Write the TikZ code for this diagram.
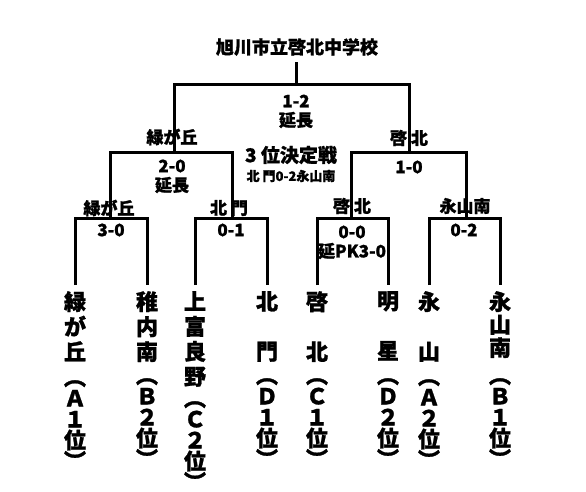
\documentclass[tikz,border=0pt]{standalone}
\usepackage{fontspec}
\setmainfont{Noto Sans CJK JP}[BoldFeatures={FakeBold=1.2}]
\newcommand{\rparv}{\raisebox{0pt}[\height][0pt]{︶}}
\begin{document}
\begin{tikzpicture}[x=1pt,y=-1pt]
\tikzset{
 ln/.style={line width=3pt},
 lab/.style={font=\bfseries\fontsize{17}{17}\selectfont, inner sep=0pt},
 team/.style={font=\bfseries\fontsize{22}{25}\selectfont, align=center, inner sep=0pt, anchor=north},
 rank/.style={font=\bfseries\fontsize{22}{21}\selectfont, align=center, inner sep=0pt, anchor=north},
}
\useasboundingbox[fill=white] (0,0) rectangle (586,491);
% coordinates
\coordinate (top) at (296,62);
\coordinate (c0) at (296,84);
\coordinate (s1) at (174,152);
\coordinate (s2) at (409,152);
\coordinate (q1) at (110,218);
\coordinate (q2) at (232,218);
\coordinate (q3) at (351,218);
\coordinate (q4) at (466,218);
\coordinate (t1) at (75,285);
\coordinate (t2) at (147,285);
\coordinate (t3) at (195,285);
\coordinate (t4) at (267,285);
\coordinate (t5) at (317,285);
\coordinate (t6) at (388,285);
\coordinate (t7) at (429,285);
\coordinate (t8) at (500,285);
% bracket lines
\draw[ln] (top) -- (c0);
\draw[ln] (s1) |- (c0) -| (s2);
\draw[ln] (q1) |- (s1) -| (q2);
\draw[ln] (q3) |- (s2) -| (q4);
\draw[ln] (t1) |- (q1) -| (t2);
\draw[ln] (t3) |- (q2) -| (t4);
\draw[ln] (t5) |- (q3) -| (t6);
\draw[ln] (t7) |- (q4) -| (t8);
% title
\node[lab, font=\bfseries\fontsize{18}{18}\selectfont] (title) at (297,47) {旭川市立啓北中学校};
% scores and labels
\node[lab] (f1) at (296,101) {1-2};
\node[lab] (f2) at (296,120) {延長};
\node[lab] (w1) at (172,137) {緑が丘};
\node[lab] (w2) at (409,138) {啓 北};
\node[lab] (sa1) at (172,166) {2-0};
\node[lab] (sa2) at (172,185) {延長};
\node[lab] (sb1) at (409,167) {1-0};
\node[lab, font=\bfseries\fontsize{19}{19}\selectfont] (third) at (291,155) {3 位決定戦};
\node[lab, font=\bfseries\fontsize{13}{13}\selectfont] (thirds) at (291,176) {北 門0-2永山南};
\node[lab] (w3) at (109,208) {緑が丘};
\node[lab] (w4) at (229,208) {北 門};
\node[lab] (w5) at (352,206) {啓 北};
\node[lab] (w6) at (465,206) {永山南};
\node[lab] (m1) at (111,230) {3-0};
\node[lab] (m2) at (231,230) {0-1};
\node[lab] (m3) at (352,232) {0-0};
\node[lab] (m3b) at (352,251) {延PK3-0};
\node[lab] (m4) at (464,230) {0-2};
% teams
\node[team] (n1) at (75,291) {緑\\が\\丘};
\node[rank] (r1) at (75,380) {︵\\Ａ\\１\\位\\\rparv};
\node[team] (n2) at (147,291) {稚\\内\\南};
\node[rank] (r2) at (147,378) {︵\\Ｂ\\２\\位\\\rparv};
\node[team] (n3) at (195,291) {上\\富\\良\\野};
\node[rank] (r3) at (195,401) {︵\\Ｃ\\２\\位\\\rparv};
\node[team] (n4) at (267,291) {北\\　\\門};
\node[rank] (r4) at (267,378) {︵\\Ｄ\\１\\位\\\rparv};
\node[team] (n5) at (317,291) {啓\\　\\北};
\node[rank] (r5) at (317,378) {︵\\Ｃ\\１\\位\\\rparv};
\node[team] (n6) at (388,291) {明\\　\\星};
\node[rank] (r6) at (388,378) {︵\\Ｄ\\２\\位\\\rparv};
\node[team] (n7) at (429,291) {永\\　\\山};
\node[rank] (r7) at (429,379) {︵\\Ａ\\２\\位\\\rparv};
\node[team, font=\bfseries\fontsize{22}{23}\selectfont] (n8) at (500,291) {永\\山\\南};
\node[rank] (r8) at (500,378) {︵\\Ｂ\\１\\位\\\rparv};
\end{tikzpicture}
\end{document}
